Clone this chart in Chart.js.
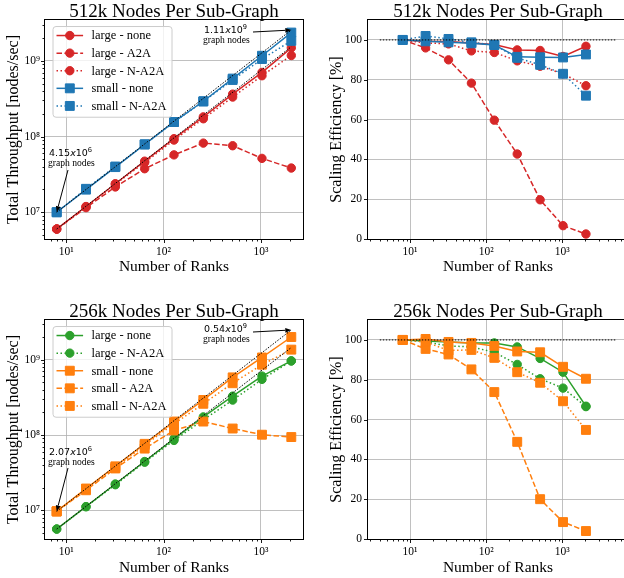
<!DOCTYPE html>
<html>
<head>
<meta charset="utf-8">
<script src="https://cdn.jsdelivr.net/npm/chart.js@4.4.1/dist/chart.umd.min.js"></script>
<style>
  body { margin: 0; background: #fff; }
  #fig { position: relative; width: 624px; height: 578px; overflow: hidden; background: #fff; }
  #fig canvas { position: absolute; }
</style>
</head>
<body>
<div id="fig">
  <canvas id="tl" width="312" height="290" style="left:0;top:0"></canvas>
  <canvas id="tr" width="330" height="290" style="left:312px;top:0"></canvas>
  <canvas id="bl" width="312" height="288" style="left:0;top:290px"></canvas>
  <canvas id="br" width="330" height="288" style="left:312px;top:290px"></canvas>
</div>
<script>
// ---- data ----
const ranks = [8, 16, 32, 64, 128, 256, 512, 1024, 2048];
const idealRanks = [8, 2048];
const idealEffRanks = [4, 5120];
const idealEff = [100, 100];

const rankTickValues = [10, 100, 1000];
const rankTickLabels = ['10¹', '10²', '10³'];
const tpTickValues = [1e7, 1e8, 1e9];
const tpTickLabels = ['10⁷', '10⁸', '10⁹'];
const effTickValues = [0, 20, 40, 60, 80, 100];
const effTickLabels = ['0', '20', '40', '60', '80', '100'];

// 512k nodes per sub-graph: total throughput [nodes/sec]
const tp512LargeNone = [6.0e6, 1.19e7, 2.38e7, 4.73e7, 9.38e7, 1.82e8, 3.64e8, 7.04e8, 1.49e9];
const tp512LargeA2A  = [6.0e6, 1.15e7, 2.16e7, 3.76e7, 5.73e7, 8.20e7, 7.57e7, 5.15e7, 3.84e7];
const tp512LargeNA2A = [6.0e6, 1.18e7, 2.35e7, 4.54e7, 9.00e7, 1.72e8, 3.33e8, 6.37e8, 1.18e9];
const tp512SmallNone = [1.0e7, 1.99e7, 3.95e7, 7.86e7, 1.56e8, 2.93e8, 5.84e8, 1.17e9, 2.37e9];
const tp512SmallNA2A = [1.0e7, 2.04e7, 4.02e7, 7.90e7, 1.56e8, 2.91e8, 5.60e8, 1.06e9, 1.84e9];
const ideal512Large = [6.0e6, 1.54e9];
const ideal512Small = [1.0e7, 2.56e9];

// 512k: scaling efficiency [%]
const eff512LargeNone = [100, 99.3, 99.2, 98.5, 97.7, 95.0, 94.7, 91.7, 96.8];
const eff512LargeA2A  = [100, 96.0, 90.0, 78.3, 59.7, 42.7, 19.7, 6.7, 2.5];
const eff512LargeNA2A = [100, 98.5, 98.0, 94.5, 93.7, 89.5, 86.8, 83.0, 77.0];
const eff512SmallNone = [100, 99.3, 98.8, 98.3, 97.5, 91.5, 91.3, 91.2, 92.7];
const eff512SmallNA2A = [100, 102.0, 100.5, 98.8, 97.5, 91.0, 87.5, 83.0, 72.0];

// 256k nodes per sub-graph: total throughput [nodes/sec]
const tp256LargeNone = [5.65e6, 1.12e7, 2.24e7, 4.45e7, 8.90e7, 1.74e8, 3.28e8, 6.06e8, 9.65e8];
const tp256LargeNA2A = [5.65e6, 1.12e7, 2.19e7, 4.36e7, 8.48e7, 1.59e8, 2.91e8, 5.48e8, 9.62e8];
const tp256SmallNone = [9.7e6, 1.95e7, 3.84e7, 7.64e7, 1.51e8, 2.92e8, 5.82e8, 1.07e9, 2.00e9];
const tp256SmallA2A  = [9.7e6, 1.85e7, 3.60e7, 6.61e7, 1.15e8, 1.51e8, 1.22e8, 1.01e8, 9.4e7];
const tp256SmallNA2A = [9.7e6, 1.92e7, 3.67e7, 7.37e7, 1.41e8, 2.60e8, 4.87e8, 8.59e8, 1.36e9];
const ideal256Large = [5.65e6, 1.45e9];
const ideal256Small = [9.7e6, 2.48e9];

// 256k: scaling efficiency [%]
const eff256LargeNone = [100, 99.5, 99.0, 98.5, 98.5, 96.5, 90.7, 83.8, 66.7];
const eff256LargeNA2A = [100, 99.0, 97.0, 96.5, 93.8, 87.7, 80.5, 75.8, 66.5];
const eff256SmallNone = [100, 100.5, 99.0, 98.5, 97.0, 94.2, 93.8, 86.5, 80.5];
const eff256SmallA2A  = [100, 95.5, 92.7, 85.2, 73.8, 48.8, 20.0, 8.5, 4.0];
const eff256SmallNA2A = [100, 99.0, 94.7, 95.0, 91.0, 83.8, 78.5, 69.2, 54.8];

// ---- styling ----
const SERIF = "'Liberation Serif', 'Times New Roman', serif";
const RED = '#d62728', BLUE = '#1f77b4', GREEN = '#2ca02c', ORANGE = '#ff7f0e';
const GRID = '#b0b0b0';
const SOLID = [], DASH = [5.5, 2.4], DOT = [1.5, 2.5];

Chart.defaults.font.family = SERIF;
Chart.defaults.color = '#000';

function series(label, xs, ys, color, dash, marker, order) {
  return {
    label: label,
    data: xs.map((x, i) => ({ x: x, y: ys[i] })),
    showLine: true,
    borderColor: color,
    backgroundColor: color,
    borderWidth: 1.5,
    borderDash: dash,
    pointStyle: marker,
    pointRadius: marker === 'rect' ? 6.3 : 4.2,
    pointBorderWidth: 1,
    pointBackgroundColor: color,
    pointBorderColor: color,
    clip: false,
    order: order
  };
}

function idealLine(xs, ys) {
  return {
    data: xs.map((x, i) => ({ x: x, y: ys[i] })),
    showLine: true,
    borderColor: '#000',
    borderWidth: 1,
    borderDash: [1.5, 1.5],
    pointRadius: 0,
    clip: false,
    order: 0
  };
}

function logTicks(min, max) {
  const out = [];
  for (let e = Math.floor(Math.log10(min)); e <= Math.ceil(Math.log10(max)); e++) {
    for (let k = 1; k < 10; k++) {
      const v = k * Math.pow(10, e);
      if (v >= min && v <= max) out.push({ value: v });
    }
  }
  return out;
}
const isMajor = v => Math.abs(Math.log10(v) - Math.round(Math.log10(v))) < 1e-9;
function pick(v, values, labels) {
  const i = values.findIndex(m => Math.abs(m - v) <= Math.abs(m) * 1e-9);
  return i < 0 ? '' : labels[i];
}

function rankAxis(min, max, height, titleBottom) {
  return {
    type: 'logarithmic', min: min, max: max, bounds: 'data',
    afterBuildTicks: s => { s.ticks = logTicks(min, max); },
    afterFit: s => { s.height = height; },
    ticks: {
      autoSkip: false, maxRotation: 0, minRotation: 0, padding: 6, color: '#000',
      font: { family: SERIF, size: 11.5 },
      callback: v => pick(v, rankTickValues, rankTickLabels)
    },
    grid: { drawTicks: false, lineWidth: 0.8, color: c => (c.tick && isMajor(c.tick.value)) ? GRID : 'rgba(0,0,0,0)' },
    border: { display: false },
    title: { display: true, text: 'Number of Ranks', color: '#000', font: { family: SERIF, size: 15.5 }, padding: { top: 0, bottom: titleBottom } }
  };
}

function tpAxis(min, max) {
  return {
    type: 'logarithmic', min: min, max: max, bounds: 'data',
    afterBuildTicks: s => { s.ticks = logTicks(min, max); },
    afterFit: s => { s.width = 45; },
    ticks: {
      autoSkip: false, padding: 5, color: '#000',
      font: { family: SERIF, size: 11.5 },
      callback: v => pick(v, tpTickValues, tpTickLabels)
    },
    grid: { drawTicks: false, lineWidth: 0.8, color: c => (c.tick && isMajor(c.tick.value)) ? GRID : 'rgba(0,0,0,0)' },
    border: { display: false },
    title: { display: true, text: 'Total Throughput [nodes/sec]', color: '#000', font: { family: SERIF, size: 16 }, padding: { top: 4, bottom: 0 } }
  };
}

function effAxis() {
  return {
    type: 'linear', min: 0, max: 110, bounds: 'data',
    afterBuildTicks: s => { s.ticks = effTickValues.map(v => ({ value: v })); },
    afterFit: s => { s.width = 56; },
    ticks: {
      autoSkip: false, padding: 6, color: '#000',
      font: { family: SERIF, size: 11.5 },
      callback: v => pick(v, effTickValues, effTickLabels)
    },
    grid: { drawTicks: false, lineWidth: 0.8, color: GRID },
    border: { display: false },
    title: { display: true, text: 'Scaling Efficiency [%]', color: '#000', font: { family: SERIF, size: 16 }, padding: { top: 15, bottom: 0 } }
  };
}

// frame, tick marks, boxed legend and arrow notes
function decor(showLegend, notes) {
  return {
    id: 'decor',
    afterDraw(chart) {
      const ctx = chart.ctx, a = chart.chartArea;
      const sx = chart.scales.x, sy = chart.scales.y;
      ctx.save();
      ctx.strokeStyle = '#000';
      ctx.lineWidth = 1;
      ctx.setLineDash([]);
      const L = Math.round(a.left) - 0.5, T = Math.round(a.top) - 0.5;
      const R = Math.round(a.right) + 0.5, B = Math.round(a.bottom) + 0.5;
      ctx.strokeRect(L, T, R - L, B - T);

      ctx.lineWidth = 0.9;
      ctx.beginPath();
      sx.ticks.forEach(t => {
        const p = Math.round(sx.getPixelForValue(t.value)) + 0.5;
        const len = isMajor(t.value) ? 3.5 : 2;
        ctx.moveTo(p, B); ctx.lineTo(p, B + len);
      });
      sy.ticks.forEach(t => {
        const p = Math.round(sy.getPixelForValue(t.value)) + 0.5;
        const len = (sy.type === 'linear' || isMajor(t.value)) ? 3.5 : 2;
        ctx.moveTo(L, p); ctx.lineTo(L - len, p);
      });
      ctx.stroke();

      if (showLegend) {
        const items = chart.data.datasets.filter(d => d.label);
        const x0 = a.left + 7.5, y0 = a.top + 6, w = 119, h = 90.7;
        ctx.beginPath();
        ctx.roundRect(x0 + 0.5, y0 + 0.5, w, h, 3);
        ctx.fillStyle = 'rgba(255,255,255,0.8)';
        ctx.fill();
        ctx.strokeStyle = '#cccccc';
        ctx.lineWidth = 1;
        ctx.stroke();
        items.forEach((d, i) => {
          const cy = y0 + 9.5 + i * 17.6;
          ctx.strokeStyle = d.borderColor;
          ctx.fillStyle = d.borderColor;
          ctx.lineWidth = 1.5;
          ctx.setLineDash(d.borderDash);
          ctx.beginPath(); ctx.moveTo(x0 + 4, cy); ctx.lineTo(x0 + 30.6, cy); ctx.stroke();
          ctx.setLineDash([]);
          ctx.lineWidth = 1;
          Chart.helpers.drawPoint(ctx, { pointStyle: d.pointStyle, radius: d.pointRadius, borderWidth: 1, rotation: 0 }, x0 + 17.3, cy);
          ctx.fillStyle = '#000';
          ctx.font = '12.5px ' + SERIF;
          ctx.textAlign = 'left';
          ctx.textBaseline = 'middle';
          ctx.fillText(d.label, x0 + 39, cy + 0.5);
        });
      }

      (notes || []).forEach(n => {
        ctx.fillStyle = '#000';
        ctx.textAlign = 'left';
        ctx.textBaseline = 'alphabetic';
        let x = n.x;
        [[n.mant, '9.5px "DejaVu Sans"', 0], ['x', 'italic 9.5px "DejaVu Sans"', 0],
         ['10', '9.5px "DejaVu Sans"', 0], [n.exp, '6.7px "DejaVu Sans"', -4]].forEach(p => {
          ctx.font = p[1];
          ctx.fillText(p[0], x, n.y + p[2]);
          x += ctx.measureText(p[0]).width;
        });
        ctx.font = '9.6px ' + SERIF;
        ctx.fillText('graph nodes', n.x - 1, n.y + 10);

        const tx = sx.getPixelForValue(n.to[0]), ty = sy.getPixelForValue(n.to[1]);
        const fx = n.from[0], fy = n.from[1];
        const ang = Math.atan2(ty - fy, tx - fx);
        const hl = 6, hw = 2.4;
        const bx = tx - hl * Math.cos(ang), by = ty - hl * Math.sin(ang);
        ctx.strokeStyle = '#000';
        ctx.lineWidth = 1;
        ctx.beginPath(); ctx.moveTo(fx, fy); ctx.lineTo(bx, by); ctx.stroke();
        ctx.beginPath();
        ctx.moveTo(tx, ty);
        ctx.lineTo(bx + hw * Math.sin(ang), by - hw * Math.cos(ang));
        ctx.lineTo(bx - hw * Math.sin(ang), by + hw * Math.cos(ang));
        ctx.closePath();
        ctx.fill();
      });
      ctx.restore();
    }
  };
}

function makeChart(id, o) {
  return new Chart(document.getElementById(id), {
    type: 'scatter',
    data: { datasets: o.datasets },
    options: {
      responsive: false,
      animation: false,
      events: [],
      layout: { padding: o.padding },
      plugins: {
        legend: { display: false },
        tooltip: { enabled: false },
        title: {
          display: true, text: o.title, fullSize: false, color: '#000',
          font: { family: SERIF, size: 19, weight: 'normal', lineHeight: 0.87 },
          padding: { top: 3.5, bottom: 0 }
        }
      },
      scales: { x: o.x, y: o.y }
    },
    plugins: [decor(o.legend, o.notes)]
  });
}

// top left: throughput, 512k
makeChart('tl', {
  title: '512k Nodes Per Sub-Graph',
  padding: { top: 0, right: 9, bottom: 0, left: 0 },
  x: rankAxis(6.07, 2700, 51, 14),
  y: tpAxis(4.43e6, 3.47e9),
  legend: true,
  notes: [
    { mant: '4.15', exp: '6', x: 49, y: 156, from: [68, 170], to: [ranks[0], tp512SmallNone[0]] },
    { mant: '1.11', exp: '9', x: 204, y: 33, from: [253, 32], to: [idealRanks[1], ideal512Small[1]] }
  ],
  datasets: [
    idealLine(idealRanks, ideal512Large),
    idealLine(idealRanks, ideal512Small),
    series('large - none', ranks, tp512LargeNone, RED, SOLID, 'circle', 9),
    series('large - A2A', ranks, tp512LargeA2A, RED, DASH, 'circle', 8),
    series('large - N-A2A', ranks, tp512LargeNA2A, RED, DOT, 'circle', 7),
    series('small - none', ranks, tp512SmallNone, BLUE, SOLID, 'rect', 6),
    series('small - N-A2A', ranks, tp512SmallNA2A, BLUE, DOT, 'rect', 5)
  ]
});

// top right: efficiency, 512k
makeChart('tr', {
  title: '512k Nodes Per Sub-Graph',
  padding: { top: 0, right: 14, bottom: 0, left: 0 },
  x: rankAxis(2.8, 7310, 51, 14),
  y: effAxis(),
  legend: false,
  datasets: [
    idealLine(idealEffRanks, idealEff),
    series('large - none', ranks, eff512LargeNone, RED, SOLID, 'circle', 9),
    series('large - A2A', ranks, eff512LargeA2A, RED, DASH, 'circle', 8),
    series('large - N-A2A', ranks, eff512LargeNA2A, RED, DOT, 'circle', 7),
    series('small - none', ranks, eff512SmallNone, BLUE, SOLID, 'rect', 6),
    series('small - N-A2A', ranks, eff512SmallNA2A, BLUE, DOT, 'rect', 5)
  ]
});

// bottom left: throughput, 256k
makeChart('bl', {
  title: '256k Nodes Per Sub-Graph',
  padding: { top: 10, right: 9, bottom: 0, left: 0 },
  x: rankAxis(6.07, 2700, 39, 1),
  y: tpAxis(4.17e6, 3.36e9),
  legend: true,
  notes: [
    { mant: '2.07', exp: '6', x: 49, y: 165, from: [68, 178], to: [ranks[0], tp256SmallNone[0]] },
    { mant: '0.54', exp: '9', x: 204, y: 42, from: [253, 42], to: [idealRanks[1], ideal256Small[1]] }
  ],
  datasets: [
    idealLine(idealRanks, ideal256Large),
    idealLine(idealRanks, ideal256Small),
    series('large - none', ranks, tp256LargeNone, GREEN, SOLID, 'circle', 9),
    series('large - N-A2A', ranks, tp256LargeNA2A, GREEN, DOT, 'circle', 8),
    series('small - none', ranks, tp256SmallNone, ORANGE, SOLID, 'rect', 7),
    series('small - A2A', ranks, tp256SmallA2A, ORANGE, DASH, 'rect', 6),
    series('small - N-A2A', ranks, tp256SmallNA2A, ORANGE, DOT, 'rect', 5)
  ]
});

// bottom right: efficiency, 256k
makeChart('br', {
  title: '256k Nodes Per Sub-Graph',
  padding: { top: 10, right: 14, bottom: 0, left: 0 },
  x: rankAxis(2.8, 7310, 39, 1),
  y: effAxis(),
  legend: false,
  datasets: [
    idealLine(idealEffRanks, idealEff),
    series('large - none', ranks, eff256LargeNone, GREEN, SOLID, 'circle', 9),
    series('large - N-A2A', ranks, eff256LargeNA2A, GREEN, DOT, 'circle', 8),
    series('small - none', ranks, eff256SmallNone, ORANGE, SOLID, 'rect', 7),
    series('small - A2A', ranks, eff256SmallA2A, ORANGE, DASH, 'rect', 6),
    series('small - N-A2A', ranks, eff256SmallNA2A, ORANGE, DOT, 'rect', 5)
  ]
});
</script>
</body>
</html>
